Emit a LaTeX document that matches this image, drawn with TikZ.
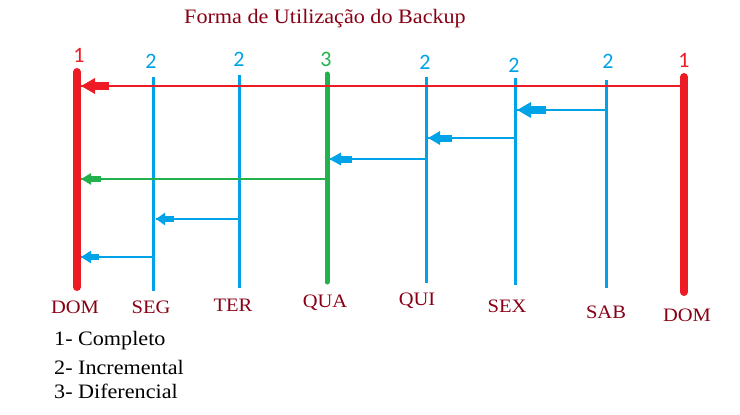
\documentclass[tikz,border=0pt]{standalone}
\usepackage{fontspec}
\setmainfont{Liberation Serif}
\newfontfamily\wideserif{Liberation Serif}[FakeStretch=1.08]
\newfontfamily\digitfont{Carlito}
\usetikzlibrary{arrows.meta}
\definecolor{pred}{HTML}{ED1C24}
\definecolor{pblue}{HTML}{00A2E8}
\definecolor{pgreen}{HTML}{22B14C}
\definecolor{dred}{HTML}{880015}
\tikzset{
  daylabel/.style={text=dred,font=\wideserif\fontsize{19}{19}\selectfont,inner sep=0pt},
  numlabel/.style={font=\digitfont\fontsize{22}{22}\selectfont,inner sep=0pt},
  legend/.style={text=black,font=\wideserif\fontsize{20.5}{20.5}\selectfont,inner sep=0pt,anchor=west},
  fullline/.style={pred,line width=8pt,line cap=round},
  incline/.style={pblue,line width=3pt},
  difline/.style={pgreen,line width=5pt,line cap=round},
  thin/.style={line width=1.3pt},
}
\begin{document}
\begin{tikzpicture}[x=1pt,y=-1pt]
\useasboundingbox (0,0) rectangle (740,415);
\fill[white] (0,0) rectangle (740,415);
% title
\node[text=dred,font=\wideserif\fontsize{20.5}{20.5}\selectfont,inner sep=0pt] (title) at (325,19) {Forma de Utilização do Backup};
% vertical lines
\coordinate (domLT) at (77,72); \coordinate (domLB) at (77,287);
\coordinate (segT) at (153,77); \coordinate (segB) at (153,291);
\coordinate (terT) at (239,75); \coordinate (terB) at (239,288);
\coordinate (quaT) at (327,74); \coordinate (quaB) at (327,282);
\coordinate (quiT) at (426,77); \coordinate (quiB) at (426,283);
\coordinate (sexT) at (515,78); \coordinate (sexB) at (515,285);
\coordinate (sabT) at (606,80); \coordinate (sabB) at (606,288);
\coordinate (domRT) at (684,77); \coordinate (domRB) at (684,292);
\draw[fullline] (domLT) -- (domLB);
\draw[fullline] (domRT) -- (domRB);
\draw[incline] (segT) -- (segB);
\draw[incline] (terT) -- (terB);
\draw[difline] (quaT) -- (quaB);
\draw[incline] (quiT) -- (quiB);
\draw[incline] (sexT) -- (sexB);
\draw[incline] (sabT) -- (sabB);
% numbers
\node[numlabel,text=pred] (n1) at (79,55) {1};
\node[numlabel,text=pblue] (n2) at (151,61) {2};
\node[numlabel,text=pblue] (n3) at (239,59) {2};
\node[numlabel,text=pgreen] (n4) at (326,59) {3};
\node[numlabel,text=pblue] (n5) at (425,62) {2};
\node[numlabel,text=pblue] (n6) at (514,65) {2};
\node[numlabel,text=pblue] (n7) at (608,61) {2};
\node[numlabel,text=pred] (n8) at (684,60) {1};
% day labels
\node[daylabel] (d1) at (75,307) {DOM};
\node[daylabel] (d2) at (151,307) {SEG};
\node[daylabel] (d3) at (233,305) {TER};
\node[daylabel] (d4) at (325,303) {QUA};
\node[daylabel] (d5) at (417,301) {QUI};
\node[daylabel] (d6) at (507,306) {SEX};
\node[daylabel] (d7) at (606,312) {SAB};
\node[daylabel] (d8) at (687,315) {DOM};
% arrow rows
\coordinate (a1s) at (684,86);  \coordinate (a1e) at (81,86);  \coordinate (a1b) at (109,86);
\coordinate (a2s) at (606,110); \coordinate (a2e) at (517,110); \coordinate (a2b) at (546,110);
\coordinate (a3s) at (515,138); \coordinate (a3e) at (428,138); \coordinate (a3b) at (452,138);
\coordinate (a4s) at (426,159); \coordinate (a4e) at (329,159); \coordinate (a4b) at (352,159);
\coordinate (a5s) at (326,179); \coordinate (a5e) at (81,179);  \coordinate (a5b) at (101,179);
\coordinate (a6s) at (239,219); \coordinate (a6e) at (156,219); \coordinate (a6b) at (174,219);
\coordinate (a7s) at (153,257); \coordinate (a7e) at (81,257);  \coordinate (a7b) at (99,257);
\draw[pred,thin] (a1s) -- (a1e);
\draw[pred,line width=8pt,-{Triangle[length=14pt,width=15pt]}] (a1b) -- (a1e);
\draw[pblue,thin] (a2s) -- (a2e);
\draw[pblue,line width=8pt,-{Triangle[length=14pt,width=15pt]}] (a2b) -- (a2e);
\draw[pblue,thin] (a3s) -- (a3e);
\draw[pblue,line width=7pt,-{Triangle[length=12pt,width=13pt]}] (a3b) -- (a3e);
\draw[pblue,thin] (a4s) -- (a4e);
\draw[pblue,line width=7pt,-{Triangle[length=12pt,width=12pt]}] (a4b) -- (a4e);
\draw[pgreen,thin] (a5s) -- (a5e);
\draw[pgreen,line width=6pt,-{Triangle[length=10pt,width=11pt]}] (a5b) -- (a5e);
\draw[pblue,thin] (a6s) -- (a6e);
\draw[pblue,line width=6pt,-{Triangle[length=9pt,width=12pt]}] (a6b) -- (a6e);
\draw[pblue,thin] (a7s) -- (a7e);
\draw[pblue,line width=6pt,-{Triangle[length=10pt,width=12pt]}] (a7b) -- (a7e);
% legend
\node[legend] (l1) at (54,341) {1- Completo};
\node[legend] (l2) at (54,367) {2- Incremental};
\node[legend] (l3) at (54,391) {3- Diferencial};
\end{tikzpicture}
\end{document}
